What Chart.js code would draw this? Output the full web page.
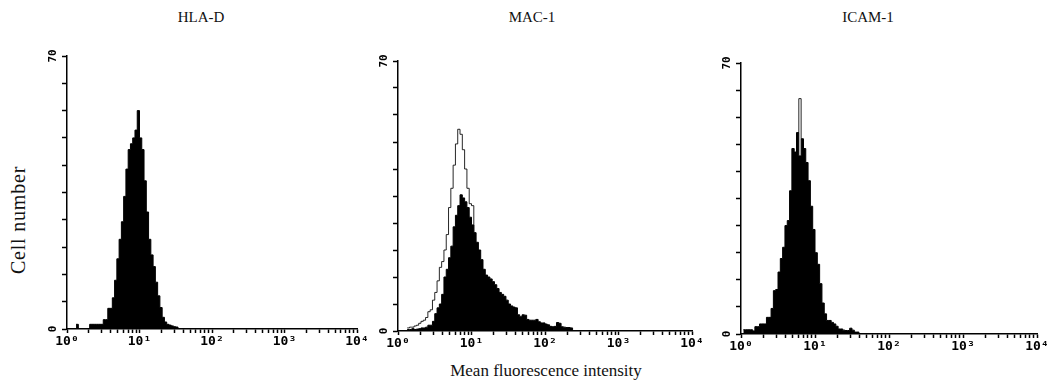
<!DOCTYPE html>
<html>
<head>
<meta charset="utf-8">
<script src="https://cdn.jsdelivr.net/npm/chart.js@4.4.1/dist/chart.umd.min.js"></script>
<style>
  html, body { margin: 0; padding: 0; background: #fff; overflow: hidden; }
  #wrap { position: relative; width: 1051px; height: 385px; }
  canvas { position: absolute; }
  .lbl { position: absolute; font-family: "Liberation Serif", serif; color: #111; white-space: nowrap; }
  .title { font-size: 15px; transform: translateX(-50%); }
  #ytitle { font-size: 20px; letter-spacing: 0.8px; transform: translate(-50%, -50%) rotate(-90deg); }
  #xtitle { font-size: 17px; transform: translateX(-50%); }
</style>
</head>
<body>
<div id="wrap">
  <div class="lbl title" style="left:201px; top:9px">HLA-D</div>
  <div class="lbl title" style="left:532px; top:9px">MAC-1</div>
  <div class="lbl title" style="left:868px; top:9px">ICAM-1</div>
  <div class="lbl" id="ytitle" style="left:18px; top:220px">Cell number</div>
  <div class="lbl" id="xtitle" style="left:546px; top:361px">Mean fluorescence intensity</div>
  <canvas id="hla" width="344" height="313" style="left:27px; top:46px"></canvas>
  <canvas id="mac" width="348" height="310" style="left:358px; top:51px"></canvas>
  <canvas id="icam" width="350" height="311" style="left:701px; top:53px"></canvas>
</div>
<script>
// 256 log channels over four decades, counts kept in bins of two channels
const BIN = 2;
const CHANNELS_PER_DECADE = 64;
const decadeLabels = ['10⁰', '10¹', '10²', '10³', '10⁴'];
const yTicks = [0, 7, 14, 21, 28, 35, 42, 49, 56, 63, 70];
const yLabelValues = [0, 70];
const yLabels = ['0', '70'];

// HLA-D
const hlaStart = 8;
const hlaCounts = [1.2, 0, 0, 0, 0, 0, 1.2, 1.2, 1.2, 1.2, 1.2, 1.2, 2.4, 2.4, 5.3, 5.3,
  8, 12.5, 18, 23, 27.5, 34, 41, 46, 47.5, 49, 51, 56, 49, 46, 38, 30, 23, 19, 16, 12,
  8.5, 5.5, 3, 1.8, 1.2, 1, 0.8, 0.6, 0.5];

// MAC-1: stained (filled) and control (outline)
const macStart = 8;
const macCounts = [0.4, 0.4, 0.6, 0.4, 0.5, 0.6, 0.8, 0.8, 1, 1.5, 1.5, 2.5,
  4.5, 6, 7, 9.5, 14, 16, 19, 22, 27, 30, 32.5, 35.3, 34.5, 33.5, 32, 29.5, 27.5, 25.5,
  23, 21, 18.5, 16, 14.5, 14, 13.5, 12.8, 12, 11, 10, 9.5, 9, 8, 7, 6.5, 6.2, 6,
  4.2, 3.7, 4.2, 4.1, 3, 2.8, 2.8, 2.8, 3, 2.4, 2.1, 2.1, 1.8, 1.6, 1.2, 1.1, 1.2,
  2.2, 2, 1.1, 1, 0.9, 0.9, 0.8];
const macControlStart = 8;
const macControl = [0.8, 1, 1, 1.3, 1.5, 2, 2.5, 2.8, 3.5, 5, 5.5, 8, 10, 13, 16.5, 18,
  21, 25, 32, 37, 43, 48.5, 52.3, 51, 47, 42, 37, 33, 32.5];

// ICAM-1: stained (filled) and control (outline, visible only at the peak)
const icamStart = 2;
const icamCounts = [1.1, 1.1, 1.1, 1.1, 0.8, 1.9, 1.9, 2.6, 2.6, 2.6, 4.3, 4.3, 6.6,
  11.2, 11.5, 16, 19.5, 22.4, 28, 29.3, 37, 47.9, 47, 52, 46, 50.4, 47.9, 44.3, 39.6,
  33, 27, 21, 18, 13, 8, 5.2, 3.5, 3.5, 3, 2.6, 2, 1.3, 1.3, 1, 0.9, 0.9, 1.5, 1,
  0.5, 0.5];
const icamControlStart = 48;
const icamControl = [52, 60.8, 50.4];

function toSteps(start, counts) {
  const pts = counts.map((c, i) => ({ x: start + i * BIN, y: c }));
  pts.push({ x: start + counts.length * BIN, y: 0 });
  return pts;
}

function xTickValues() {
  const out = [];
  for (let d = 0; d < 4; d++) {
    for (let k = 1; k < 10; k++) out.push(CHANNELS_PER_DECADE * (d + Math.log10(k)));
  }
  out.push(4 * CHANNELS_PER_DECADE);
  return out;
}

function decadeLabel(value) {
  const d = value / CHANNELS_PER_DECADE;
  return Math.abs(d - Math.round(d)) < 1e-6 ? decadeLabels[Math.round(d)] : '';
}

// rotated 0 / 70 labels on the count axis
const sideLabels = {
  id: 'sideLabels',
  afterDraw(chart) {
    const { ctx, scales: { y } } = chart;
    ctx.save();
    ctx.font = 'bold 11px "DejaVu Sans Mono"';
    ctx.fillStyle = '#000';
    ctx.textAlign = 'center';
    ctx.textBaseline = 'middle';
    yLabelValues.forEach((v, i) => {
      ctx.save();
      ctx.translate(y.right - 14, y.getPixelForValue(v));
      ctx.rotate(-Math.PI / 2);
      ctx.fillText(yLabels[i], 0, 0);
      ctx.restore();
    });
    ctx.restore();
  }
};

function filled(points) {
  return {
    data: points, stepped: true, fill: 'origin', pointRadius: 0,
    borderColor: '#000', borderWidth: 1, backgroundColor: '#000', order: 1
  };
}
function outline(points) {
  return {
    data: points, stepped: true, fill: false, pointRadius: 0,
    borderColor: 'rgba(0,0,0,0.85)', borderWidth: 1, order: 2
  };
}

function panel(id, datasets) {
  const ctx = document.getElementById(id).getContext('2d');
  return new Chart(ctx, {
    type: 'line',
    data: { datasets: datasets },
    plugins: [sideLabels],
    options: {
      responsive: false,
      animation: false,
      layout: { padding: { top: 10, right: 14, left: 0, bottom: 0 } },
      plugins: { legend: { display: false }, tooltip: { enabled: false } },
      scales: {
        x: {
          type: 'linear', min: 0, max: 4 * CHANNELS_PER_DECADE,
          afterBuildTicks: (s) => { s.ticks = xTickValues().map(v => ({ value: v })); },
          afterFit: (s) => { s.height = 30; },
          border: { display: true, color: '#000', width: 1.5 },
          grid: { drawOnChartArea: false, drawTicks: true, tickLength: 4, tickColor: '#000', tickWidth: 1.5 },
          ticks: {
            autoSkip: false, maxRotation: 0, minRotation: 0, padding: 1, color: '#000',
            font: { family: 'DejaVu Sans Mono', size: 13, weight: 'bold' },
            callback: (v) => decadeLabel(v)
          }
        },
        y: {
          min: 0, max: 70,
          afterBuildTicks: (s) => { s.ticks = yTicks.map(v => ({ value: v })); },
          afterFit: (s) => { s.width = 40; },
          border: { display: true, color: '#000', width: 1.5 },
          grid: { drawOnChartArea: false, drawTicks: true, tickLength: 5, tickColor: '#000', tickWidth: 1.5 },
          ticks: { callback: () => '', font: { size: 1 } }
        }
      }
    }
  });
}

document.addEventListener('DOMContentLoaded', () => {
  panel('hla', [filled(toSteps(hlaStart, hlaCounts))]);
  panel('mac', [filled(toSteps(macStart, macCounts)), outline(toSteps(macControlStart, macControl))]);
  panel('icam', [filled(toSteps(icamStart, icamCounts)), outline(toSteps(icamControlStart, icamControl))]);
});
</script>
</body>
</html>
